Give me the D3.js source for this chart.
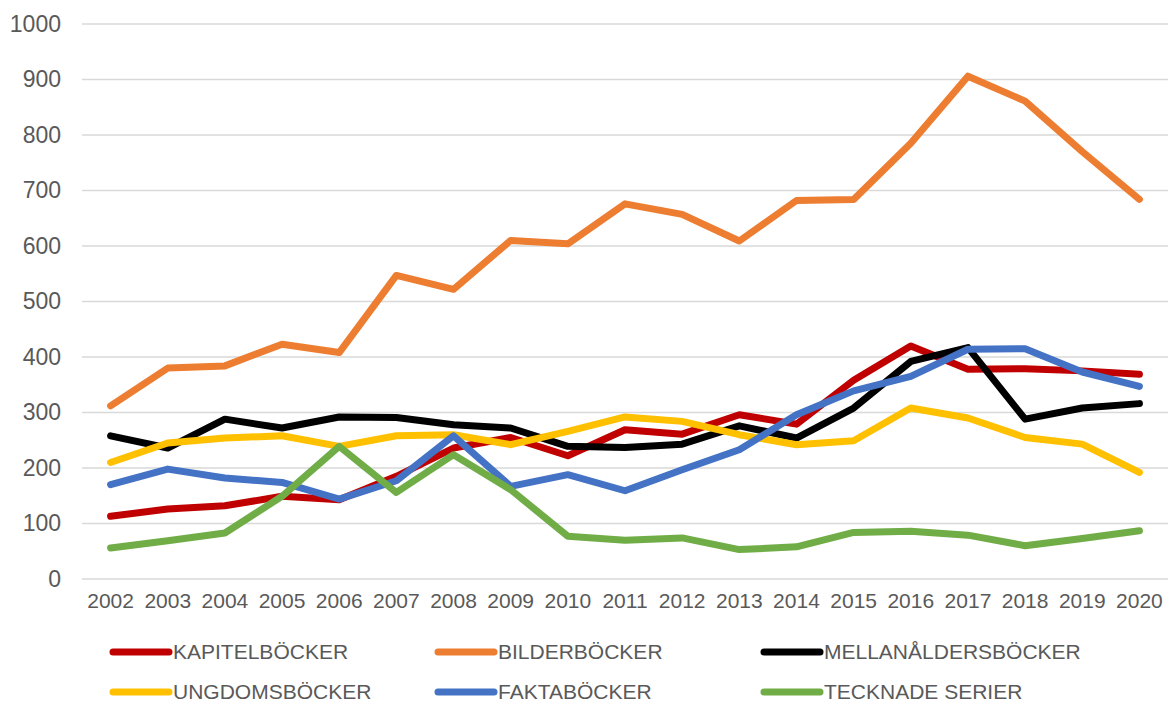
<!DOCTYPE html>
<html>
<head>
<meta charset="utf-8">
<script src="https://cdn.jsdelivr.net/npm/d3@7"></script>
<style>
  body { margin: 0; background: #fff; }
  text { font-family: "Liberation Sans", Arial, sans-serif; fill: #595959; }
</style>
</head>
<body>
<div id="chart"></div>
<script>
// Data.
var years = ["2002", "2003", "2004", "2005", "2006", "2007", "2008", "2009", "2010", "2011",
             "2012", "2013", "2014", "2015", "2016", "2017", "2018", "2019", "2020"];
var yTicks = [0, 100, 200, 300, 400, 500, 600, 700, 800, 900, 1000];

var kapitel   = [113, 126, 132, 149, 143, 185, 236, 255, 222, 269, 261, 296, 279, 358, 420, 378, 379, 375, 369];
var bilder    = [312, 380, 384, 423, 408, 547, 522, 610, 604, 676, 657, 609, 682, 684, 785, 906, 861, 770, 684];
var mellan    = [258, 236, 288, 272, 292, 291, 278, 272, 239, 237, 243, 276, 254, 308, 392, 417, 288, 308, 316];
var ungdoms   = [210, 245, 254, 258, 239, 258, 260, 242, 266, 292, 284, 260, 242, 249, 308, 290, 255, 243, 192];
var fakta     = [170, 198, 182, 174, 144, 177, 258, 167, 188, 159, 197, 233, 296, 339, 365, 414, 415, 373, 347];
var tecknade  = [56, 69, 83, 149, 239, 156, 224, 161, 77, 70, 74, 53, 58, 84, 86, 79, 60, 73, 87];

var seriesNames = ["KAPITELBÖCKER", "BILDERBÖCKER", "MELLANÅLDERSBÖCKER",
                   "UNGDOMSBÖCKER", "FAKTABÖCKER", "TECKNADE SERIER"];
var seriesColors = ["#C00000", "#ED7D31", "#000000", "#FFC000", "#4472C4", "#70AD47"];
var seriesValues = [kapitel, bilder, mellan, ungdoms, fakta, tecknade];

// Dimensions.
var W = 1168, H = 704;
var plot = {left: 82, right: 1168, top: 24, bottom: 579};

var svg = d3.select("#chart")
    .append("svg")
    .attr("width", W)
    .attr("height", H);

// Scales.
var xScale = d3.scaleBand().domain(years).range([plot.left, plot.right]);
var yScale = d3.scaleLinear().domain([0, 1000]).range([plot.bottom, plot.top]);

// Gridlines.
svg.append("g")
    .selectAll("line")
    .data(yTicks)
    .join("line")
    .attr("x1", plot.left)
    .attr("x2", plot.right)
    .attr("y1", function(d) { return yScale(d); })
    .attr("y2", function(d) { return yScale(d); })
    .attr("stroke", "#D9D9D9")
    .attr("stroke-width", 1.5);

// Y axis labels.
var yAxis = svg.append("g")
    .attr("transform", "translate(" + (plot.left - 21) + ",0)")
    .call(d3.axisLeft(yScale).tickValues(yTicks).tickFormat(d3.format("d")).tickSize(0).tickPadding(0));
yAxis.select(".domain").remove();
yAxis.selectAll("text")
    .attr("font-size", 23)
    .attr("font-family", null)
    .attr("fill", "#595959");

// X axis labels.
var xAxis = svg.append("g")
    .attr("transform", "translate(0," + (plot.bottom + 14) + ")")
    .call(d3.axisBottom(xScale).tickSize(0).tickPadding(0));
xAxis.select(".domain").remove();
xAxis.selectAll("text")
    .attr("font-size", 21)
    .attr("font-family", null)
    .attr("fill", "#595959");

// Lines.
var line = d3.line()
    .x(function(d, i) { return xScale(years[i]) + xScale.bandwidth() / 2; })
    .y(function(d) { return yScale(d); });

svg.append("g")
    .selectAll("path")
    .data(seriesValues)
    .join("path")
    .attr("d", line)
    .attr("fill", "none")
    .attr("stroke", function(d, i) { return seriesColors[i]; })
    .attr("stroke-width", 7)
    .attr("stroke-linejoin", "round")
    .attr("stroke-linecap", "round");

// Legend.
var legendCols = [113, 438, 764];
var legendRows = [652, 692];

var legend = svg.append("g")
    .selectAll("g")
    .data(seriesNames)
    .join("g")
    .attr("transform", function(d, i) {
        return "translate(" + legendCols[i % 3] + "," + legendRows[Math.floor(i / 3)] + ")";
    });

legend.append("line")
    .attr("x1", 0)
    .attr("x2", 56)
    .attr("stroke", function(d, i) { return seriesColors[i]; })
    .attr("stroke-width", 7)
    .attr("stroke-linecap", "round");

legend.append("text")
    .attr("x", 60)
    .attr("dy", "0.35em")
    .attr("font-size", 21)
    .text(function(d) { return d; });
</script>
</body>
</html>
